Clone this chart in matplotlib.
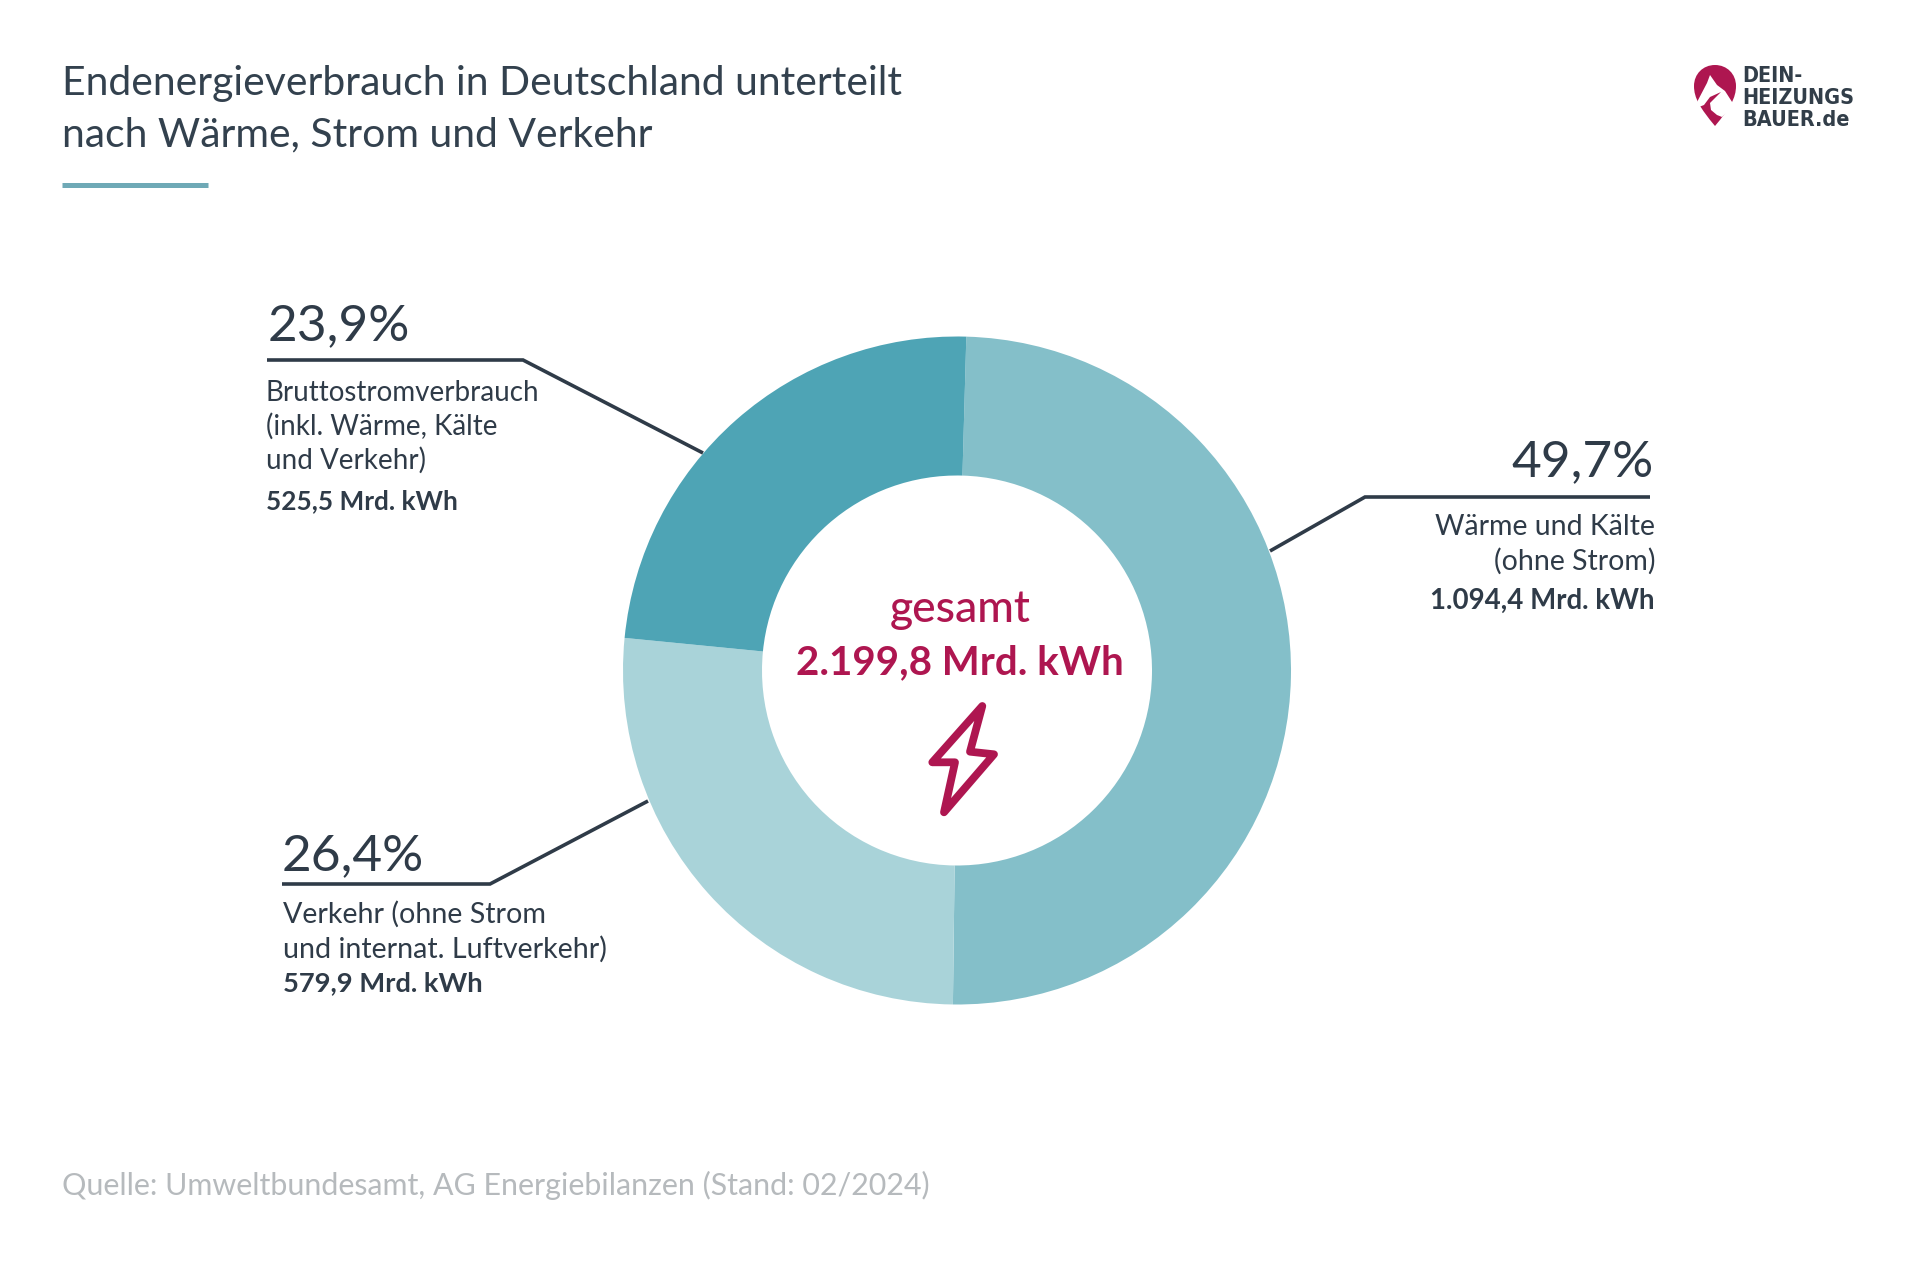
import matplotlib
matplotlib.use("Agg")
import matplotlib.pyplot as plt
from matplotlib.patches import PathPatch, Polygon
from matplotlib.path import Path

# Final energy use in Germany, billion kWh
segments = ["Wärme und Kälte", "Verkehr", "Bruttostromverbrauch"]
values = [1094.4, 579.9, 525.5]
shares = ["49,7%", "26,4%", "23,9%"]
colors = ["#84BFC9", "#A9D3D9", "#4EA4B5"]

TITLE = "Endenergieverbrauch in Deutschland unterteilt\nnach Wärme, Strom und Verkehr"
SOURCE = "Quelle: Umweltbundesamt, AG Energiebilanzen (Stand: 02/2024)"
DARK = "#2F3B48"
RED = "#AE1650"
FONT = "Lato"

fig = plt.figure(figsize=(19.2, 12.8), dpi=100, facecolor="white")

# Overlay in pixel units for text, leader lines and icons
canvas = fig.add_axes([0, 0, 1, 1], zorder=2)
canvas.set_xlim(0, 1920)
canvas.set_ylim(1280, 0)
canvas.axis("off")
canvas.patch.set_alpha(0)

# Donut
cx, cy, radius = 957, 670.5, 334
donut = fig.add_axes([(cx - radius) / 1920, 1 - (cy + radius) / 1280,
                      2 * radius / 1920, 2 * radius / 1280], zorder=1)
donut.pie(values, colors=colors, startangle=88.4, counterclock=False, radius=1,
          wedgeprops=dict(width=1 - 195 / 334, linewidth=0))
donut.set_xlim(-1, 1)
donut.set_ylim(-1, 1)


def label(x, y, s, size, color=DARK, weight="normal", ha="left", family=FONT, stretch="normal"):
    canvas.text(x, y, s, fontsize=size, color=color, fontweight=weight, ha=ha,
                va="baseline", family=family, fontstretch=stretch)


# Heading block
label(62, 95, TITLE.split("\n")[0], 29.4, color="#33414E")
label(62, 146, TITLE.split("\n")[1], 29.4, color="#33414E")
canvas.plot([62, 208], [185, 185], color="#6FA9B6", lw=3.6, solid_capstyle="butt")
label(62, 1195, SOURCE, 21.9, color="#B6BABD")

# Leader lines
for xs, ys in [([267, 523, 703], [360, 360, 453]),
               ([1650, 1365, 1270], [497, 497, 551]),
               ([282, 490, 648], [884, 884, 801])]:
    canvas.plot(xs, ys, color=DARK, lw=2.6, solid_joinstyle="miter", solid_capstyle="butt")

# Callouts
label(268, 340, shares[2], 37)
label(266, 401, "Bruttostromverbrauch", 20)
label(266, 435, "(inkl. Wärme, Kälte", 20)
label(266, 469, "und Verkehr)", 20)
label(266, 509, f"{values[2]:.1f}".replace(".", ",") + " Mrd. kWh", 18.8, weight="bold")

label(1654, 476, shares[0], 37, ha="right")
label(1655, 535, "Wärme und Kälte", 20.5, ha="right")
label(1655, 570, "(ohne Strom)", 20.5, ha="right")
label(1655, 609, "1.094,4 Mrd. kWh", 19.9, weight="bold", ha="right")

label(282, 870, shares[1], 37)
label(283, 923, "Verkehr (ohne Strom", 20.6)
label(283, 958, "und internat. Luftverkehr)", 20.6)
label(283, 991, "579,9 Mrd. kWh", 19.7, weight="bold")

# Centre of the ring
label(960, 622, "gesamt", 32, color=RED, ha="center", weight="medium")
label(960, 674, "2.199,8 Mrd. kWh", 29, color=RED, weight="bold", ha="center")
bolt = [(982.3, 706), (970, 751.7), (994, 754.3), (944, 812.3), (955, 762.3), (932.3, 762.3)]
canvas.add_patch(Polygon(bolt, closed=True, fill=False, edgecolor=RED, lw=5.6, joinstyle="round"))

# Logo: pin with a flame cut-out and the wordmark
pin = Path([(1715, 126), (1700, 108), (1694, 98), (1694, 86), (1694, 74), (1703, 65), (1715, 65),
            (1727, 65), (1736, 74), (1736, 86), (1736, 98), (1730, 108), (1715, 126)],
           [Path.MOVETO] + [Path.CURVE4] * 12)
canvas.add_patch(PathPatch(pin, facecolor=RED, edgecolor="none"))
flame = [(1696, 104), (1707, 83), (1710, 75), (1717, 85), (1725, 91), (1734, 105), (1722, 117),
         (1717, 115), (1711, 110), (1710, 103), (1721, 92), (1710, 97), (1704, 105), (1699, 107)]
canvas.add_patch(Polygon(flame, closed=True, facecolor="white", edgecolor="none"))
for baseline, line in [(82, "DEIN-"), (104, "HEIZUNGS"), (126, "BAUER.de")]:
    label(1742, baseline, line, 15.5, weight="bold", family="DejaVu Sans",
          stretch="condensed", color="#323E49")

fig.savefig("out.png", dpi=100, facecolor="white")
